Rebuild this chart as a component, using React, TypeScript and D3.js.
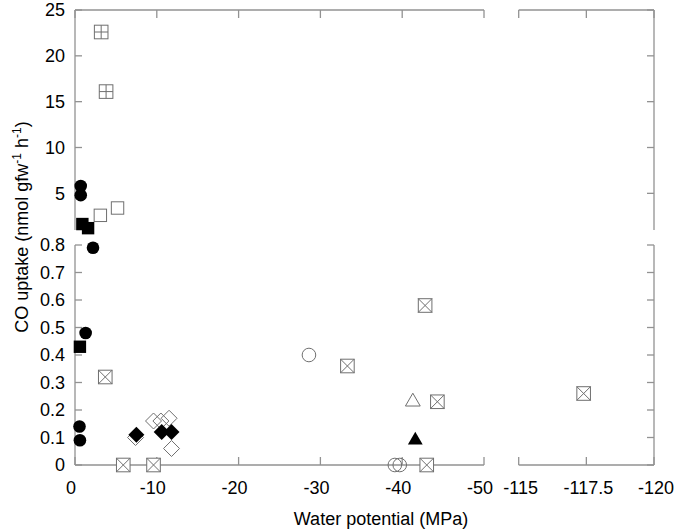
import React from "react";
import * as d3 from "d3";

// water potential (MPa) and CO uptake (nmol gfw-1 h-1), one pair of arrays per symbol
const filledCircleX = [-0.7, -0.7, -2.2, -1.3, -0.55, -0.6];
const filledCircleY = [5.8, 4.8, 0.79, 0.48, 0.14, 0.09];
const filledSquareX = [-0.9, -1.6, -0.6];
const filledSquareY = [1.65, 1.2, 0.43];
const openSquareX = [-3.1, -5.2];
const openSquareY = [2.6, 3.4];
const plusSquareX = [-3.2, -3.8];
const plusSquareY = [22.6, 16.1];
const crossSquareX = [-3.7, -5.9, -9.6, -33.3, -42.8, -44.3, -43.0, -117.4];
const crossSquareY = [0.32, 0, 0, 0.36, 0.58, 0.23, 0, 0.26];
const openCircleX = [-28.6, -39.1, -39.7];
const openCircleY = [0.4, 0, 0];
const openDiamondX = [-7.4, -9.6, -10.5, -11.5, -11.8];
const openDiamondY = [0.1, 0.16, 0.16, 0.17, 0.06];
const filledDiamondX = [-7.5, -10.6, -11.8];
const filledDiamondY = [0.11, 0.12, 0.12];
const openTriangleX = [-41.3];
const openTriangleY = [0.23];
const filledTriangleX = [-41.6];
const filledTriangleY = [0.09];

const yLowTicks = [0, 0.1, 0.2, 0.3, 0.4, 0.5, 0.6, 0.7, 0.8];
const yHighTicks = [5, 10, 15, 20, 25];
const xLeftTicks = [0, -10, -20, -30, -40, -50];
const xRightTicks = [-115, -117.5, -120];

const W = 678;
const H = 531;
const AXIS = "#929292";
const GREY = "#6f6f6f";
const FONT = "Liberation Sans, Arial, sans-serif";

const xL = d3.scaleLinear().domain([0, -50]).range([75, 484]);
const xR = d3.scaleLinear().domain([-115, -120]).range([518.7, 654]);
const yLo = d3.scaleLinear().domain([0, 0.8]).range([465, 245]);
const yHi = d3.scaleLinear().domain([1, 25]).range([230, 10]);

const px = (v: number) => (v < -80 ? xR(v) : xL(v));
const py = (v: number) => (v > 0.8 ? yHi(v) : yLo(v));

const tri = d3.symbol().type(d3.symbolTriangle).size(95)();
const diamond = (r: number) => `M0,${-r}L${r},0L0,${r}L${-r},0Z`;

function Marker({ kind, x, y }: { kind: string; x: number; y: number }) {
  const t = `translate(${x},${y})`;
  switch (kind) {
    case "fc":
      return <circle cx={x} cy={y} r={6.3} fill="#000" />;
    case "fs":
      return <rect x={x - 6.2} y={y - 6.2} width={12.4} height={12.4} fill="#000" />;
    case "os":
      return <rect x={x - 6.2} y={y - 6.2} width={12.4} height={12.4} fill="none" stroke={GREY} strokeWidth={1} />;
    case "ps":
      return (
        <g transform={t} stroke={GREY} strokeWidth={1} fill="#fff">
          <rect x={-6.8} y={-6.8} width={13.6} height={13.6} />
          <path d="M0,-6.8V6.8M-6.8,0H6.8" />
        </g>
      );
    case "xs":
      return (
        <g transform={t} stroke={GREY} strokeWidth={1} fill="#fff">
          <rect x={-6.8} y={-6.8} width={13.6} height={13.6} />
          <path d="M-6.8,-6.8L6.8,6.8M6.8,-6.8L-6.8,6.8" />
        </g>
      );
    case "oc":
      return <circle cx={x} cy={y} r={6.8} fill="none" stroke={GREY} strokeWidth={1} />;
    case "od":
      return <path transform={t} d={diamond(8)} fill="none" stroke={GREY} strokeWidth={1} />;
    case "fd":
      return <path transform={t} d={diamond(8)} fill="#000" />;
    case "ot":
      return <path transform={t} d={tri || ""} fill="none" stroke={GREY} strokeWidth={1} />;
    case "ft":
      return <path transform={t} d={tri || ""} fill="#000" />;
    default:
      return null;
  }
}

const series: [string, number[], number[]][] = [
  ["xs", crossSquareX, crossSquareY],
  ["oc", openCircleX, openCircleY],
  ["ot", openTriangleX, openTriangleY],
  ["ft", filledTriangleX, filledTriangleY],
  ["od", openDiamondX, openDiamondY],
  ["fd", filledDiamondX, filledDiamondY],
  ["ps", plusSquareX, plusSquareY],
  ["os", openSquareX, openSquareY],
  ["fs", filledSquareX, filledSquareY],
  ["fc", filledCircleX, filledCircleY],
];

export default function App() {
  const tk = 7;
  const lx = xL(0);
  const rx = xR(-120);
  const by = yLo(0);
  const ty = yHi(25);
  return (
    <svg width={W} height={H} style={{ position: "absolute", left: 0, top: 0, background: "#fff" }} fontFamily={FONT}>
      <g stroke={AXIS} strokeWidth={1.3} fill="none">
        {/* frame segments around the breaks */}
        <line x1={lx} x2={lx} y1={yLo(0)} y2={yLo(0.8)} />
        <line x1={lx} x2={lx} y1={yHi(1)} y2={yHi(25)} />
        <line x1={rx} x2={rx} y1={yLo(0)} y2={yLo(0.8)} />
        <line x1={rx} x2={rx} y1={yHi(1)} y2={yHi(25)} />
        <line x1={xL(0)} x2={xL(-50)} y1={by} y2={by} />
        <line x1={xR(-115)} x2={xR(-120)} y1={by} y2={by} />
        <line x1={xL(0)} x2={xL(-50)} y1={ty} y2={ty} />
        <line x1={xR(-115)} x2={xR(-120)} y1={ty} y2={ty} />
        {yLowTicks.map((v) => (
          <g key={"yl" + v}>
            <line x1={lx} x2={lx + tk} y1={yLo(v)} y2={yLo(v)} />
            <line x1={rx} x2={rx - tk} y1={yLo(v)} y2={yLo(v)} />
          </g>
        ))}
        {yHighTicks.map((v) => (
          <g key={"yh" + v}>
            <line x1={lx} x2={lx + tk} y1={yHi(v)} y2={yHi(v)} />
            <line x1={rx} x2={rx - tk} y1={yHi(v)} y2={yHi(v)} />
          </g>
        ))}
        {xLeftTicks.map((v) => (
          <g key={"xl" + v}>
            <line x1={xL(v)} x2={xL(v)} y1={by} y2={by - 8} />
            <line x1={xL(v)} x2={xL(v)} y1={ty} y2={ty + 8} />
          </g>
        ))}
        {xRightTicks.map((v) => (
          <g key={"xr" + v}>
            <line x1={xR(v)} x2={xR(v)} y1={by} y2={by - 8} />
            <line x1={xR(v)} x2={xR(v)} y1={ty} y2={ty + 8} />
          </g>
        ))}
      </g>

      <g fontSize={18} fill="#000" textAnchor="end">
        {yLowTicks.map((v) => (
          <text key={"tl" + v} x={65} y={yLo(v)} dy="0.35em">
            {v === 0 ? "0" : v.toFixed(1)}
          </text>
        ))}
        {yHighTicks.map((v) => (
          <text key={"th" + v} x={65} y={yHi(v)} dy="0.35em">
            {v}
          </text>
        ))}
      </g>
      <g fontSize={18} fill="#000" textAnchor="middle">
        {xLeftTicks.map((v) => (
          <text key={"lx" + v} x={xL(v) - 4} y={494}>
            {v}
          </text>
        ))}
        {xRightTicks.map((v) => (
          <text key={"rx" + v} x={xR(v) + 2} y={494}>
            {v}
          </text>
        ))}
      </g>

      <text x={381} y={525} fontSize={18} textAnchor="middle" fill="#000">
        Water potential (MPa)
      </text>
      <text transform="translate(28,227) rotate(-90)" fontSize={18} textAnchor="middle" fill="#000">
        CO uptake (nmol gfw
        <tspan fontSize={12} dy={-7}>-1</tspan>
        <tspan dy={7}> h</tspan>
        <tspan fontSize={12} dy={-7}>-1</tspan>
        <tspan dy={7}>)</tspan>
      </text>

      <g>
        {series.map(([kind, xs, ys]) =>
          xs.map((xv, i) => <Marker key={kind + i} kind={kind} x={px(xv)} y={py(ys[i])} />)
        )}
      </g>
    </svg>
  );
}
